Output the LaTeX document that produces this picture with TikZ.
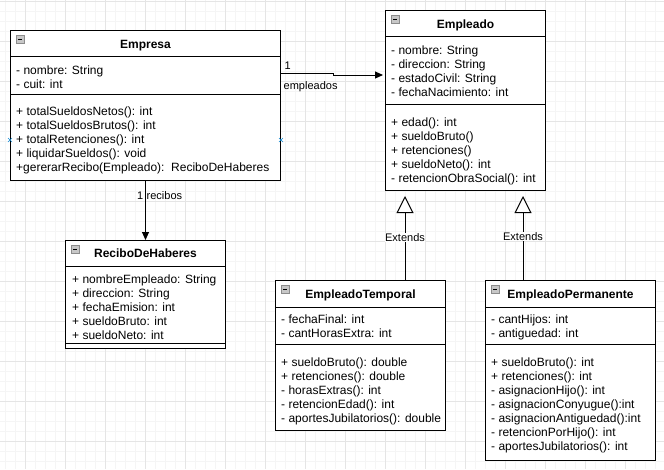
\documentclass[tikz,border=0pt]{standalone}
\usepackage{fontspec}
\setmainfont{Liberation Sans}
\usetikzlibrary{arrows.meta}
\usetikzlibrary{calc}

\tikzset{
  classbox/.style={draw=black, line width=1pt, fill=white, inner sep=0pt, anchor=north west},
  classtitle/.style={font=\bfseries\fontsize{12}{14}\selectfont, anchor=base, inner sep=0pt},
  member/.style={font=\fontsize{12}{14}\selectfont, anchor=base west, inner sep=0pt},
  linklabel/.style={font=\fontsize{11}{13}\selectfont, inner sep=0.5pt},
  sepline/.style={draw=black, line width=1pt},
  iconbox/.style={draw=black!45, fill=black!22, line width=0.8pt},
  assoc/.style={draw=black, line width=1pt, -{Triangle[length=8pt,width=7pt]}},
  extends/.style={draw=black, line width=1pt, -{Triangle[open,length=17pt,width=17pt,fill=white]}},
  gridminor/.style={draw=black!4, line width=0.8pt},
  gridmajor/.style={draw=black!10, line width=1pt},
  connpoint/.style={draw=cyan!70!blue, line width=0.6pt},
}

\begin{document}
\begin{tikzpicture}[x=1pt, y=-1pt]

\useasboundingbox[fill=white] (0,0) rectangle (664,469);

% background grid
\foreach \gx in {5,15,...,665} \draw[gridminor] (\gx,0) -- (\gx,469);
\foreach \gy in {1,11,...,461} \draw[gridminor] (0,\gy) -- (664,\gy);
\foreach \gx in {25,65,...,665} \draw[gridmajor] (\gx,0) -- (\gx,469);
\foreach \gy in {1,41,...,441} \draw[gridmajor] (0,\gy) -- (664,\gy);

% class boxes
\node[classbox, minimum width=270pt, minimum height=150pt] (empresa) at (10,30) {};
\node[classbox, minimum width=160pt, minimum height=180pt] (empleado) at (385,10) {};
\node[classbox, minimum width=160pt, minimum height=108pt] (recibo) at (65,240) {};
\node[classbox, minimum width=170pt, minimum height=150pt] (temporal) at (275,280) {};
\node[classbox, minimum width=170pt, minimum height=180pt] (permanente) at (485,280) {};

% compartments
\foreach \c/\s in {empresa/26, empresa/64, empleado/26, empleado/94, recibo/26, recibo/103,
                   temporal/27, temporal/64, permanente/27, permanente/64}
  \draw[sepline] ($(\c.north west)+(0,\s)$) -- ($(\c.north east)+(0,\s)$);

% collapse icons
\foreach \c in {empresa, empleado, recibo, temporal, permanente} {
  \draw[iconbox] ($(\c.north west)+(6,5)$) rectangle ++(8,8);
  \draw[line width=1pt] ($(\c.north west)+(8,9)$) -- ++(4,0);
}

% titles
\node[classtitle] (empresa-t) at ($(empresa.north)+(0,18)$) {Empresa};
\node[classtitle] (empleado-t) at ($(empleado.north)+(0,18)$) {Empleado};
\node[classtitle] (recibo-t) at ($(recibo.north)+(0,17.5)$) {ReciboDeHaberes};
\node[classtitle] (temporal-t) at ($(temporal.north)+(0,18.5)$) {EmpleadoTemporal};
\node[classtitle] (permanente-t) at ($(permanente.north)+(0,18.5)$) {EmpleadoPermanente};

% Empresa
\foreach \m [count=\i] in {- nombre: String, - cuit: int}
  \node[member] (empresa-a\i) at ($(empresa.north west)+(6,{30+14*\i})$) {\m};
\foreach \m [count=\i] in {+ totalSueldosNetos(): int, + totalSueldosBrutos(): int,
    + totalRetenciones(): int, + liquidarSueldos(): void,
    +gererarRecibo(Empleado):\ \ ReciboDeHaberes}
  \node[member] (empresa-m\i) at ($(empresa.north west)+(6,{71+14*\i})$) {\m};

% Empleado
\foreach \m [count=\i] in {- nombre: String, - direccion: String, - estadoCivil: String,
    - fechaNacimiento: int}
  \node[member] (empleado-a\i) at ($(empleado.north west)+(6,{30+14*\i})$) {\m};
\foreach \m [count=\i] in {+ edad(): int, + sueldoBruto(), + retenciones(), + sueldoNeto(): int,
    - retencionObraSocial(): int}
  \node[member] (empleado-m\i) at ($(empleado.north west)+(6,{102+14*\i})$) {\m};

% ReciboDeHaberes
\foreach \m [count=\i] in {+ nombreEmpleado: String, + direccion: String, + fechaEmision: int,
    + sueldoBruto: int, + sueldoNeto: int}
  \node[member] (recibo-a\i) at ($(recibo.north west)+(7,{29+14*\i})$) {\m};

% EmpleadoTemporal
\foreach \m [count=\i] in {- fechaFinal: int, - cantHorasExtra: int}
  \node[member] (temporal-a\i) at ($(temporal.north west)+(6,{29.5+14*\i})$) {\m};
\foreach \m [count=\i] in {+ sueldoBruto(): double, + retenciones(): double, - horasExtras(): int,
    - retencionEdad(): int, - aportesJubilatorios(): double}
  \node[member] (temporal-m\i) at ($(temporal.north west)+(6,{72+14*\i})$) {\m};

% EmpleadoPermanente
\foreach \m [count=\i] in {- cantHijos: int, - antiguedad: int}
  \node[member] (permanente-a\i) at ($(permanente.north west)+(6,{29.5+14*\i})$) {\m};
\foreach \m [count=\i] in {+ sueldoBruto(): int, + retenciones(): int, - asignacionHijo(): int,
    - asignacionConyugue():int, - asignacionAntiguedad():int, - retencionPorHijo(): int,
    - aportesJubilatorios(): int}
  \node[member] (permanente-m\i) at ($(permanente.north west)+(6,{72+14*\i})$) {\m};

% connection points
\foreach \p in {south west, south east} {
  \coordinate (cp) at ($(empresa.\p)+(0,-41)$);
  \draw[connpoint] ($(cp)+(-2,-2)$) -- ($(cp)+(2,2)$);
  \draw[connpoint] ($(cp)+(-2,2)$) -- ($(cp)+(2,-2)$);
}

% association Empresa -> Empleado
\coordinate (empA) at ($(empresa.north east)+(0,43)$);
\draw[assoc, shorten >=2pt] (empA) -- ++(52,0) |- ($(empleado.north west)+(0,65)$);
\node[linklabel, anchor=base west] (empA-one) at ($(empA)+(3,-4)$) {1};
\node[linklabel, anchor=base west] (empA-role) at ($(empA)+(2,16)$) {empleados};

% association Empresa -> ReciboDeHaberes
\draw[assoc] (empresa.south) -- (recibo.north);
\node[linklabel, anchor=base east, inner sep=0pt] (rec-one) at ($(empresa.south)+(-2,18)$) {1};
\node[linklabel, anchor=base west, inner sep=0pt] (rec-role) at ($(empresa.south)+(1,18)$) {recibos};

% generalizations
\coordinate (tempTop) at ($(temporal.north west)+(130,0)$);
\coordinate (permTop) at ($(permanente.north west)+(38,0)$);
\draw[extends, shorten >=5pt] (tempTop) -- (tempTop |- empleado.south)
  node[linklabel, fill=white, pos=0.48] (temp-ext) {Extends};
\draw[extends, shorten >=5pt] (permTop) -- (permTop |- empleado.south)
  node[linklabel, fill=white, pos=0.49] (perm-ext) {Extends};

\end{tikzpicture}
\end{document}
